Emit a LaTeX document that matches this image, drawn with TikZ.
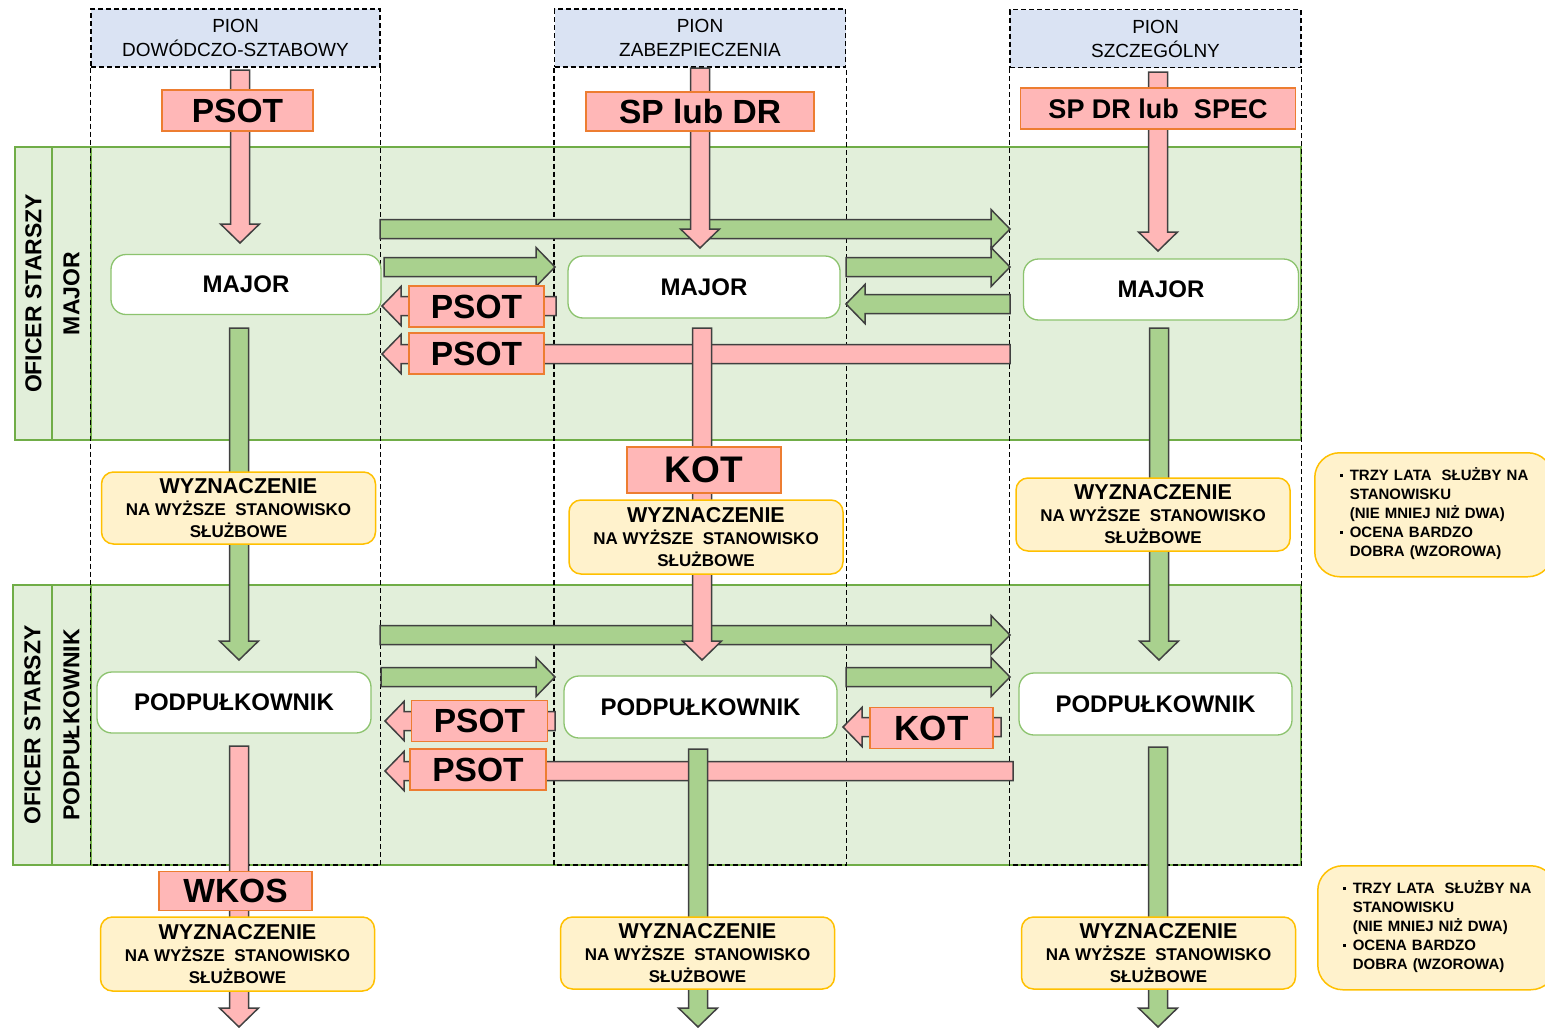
\documentclass[tikz,border=0pt]{standalone}
\usepackage{fontspec}
\setmainfont{Liberation Sans}
\usetikzlibrary{calc}
\definecolor{bandfill}{RGB}{226,239,218}
\definecolor{bandline}{RGB}{112,173,71}
\definecolor{headfill}{RGB}{218,227,243}
\definecolor{pinkfill}{RGB}{255,183,183}
\definecolor{tagline}{RGB}{237,125,49}
\definecolor{greenfill}{RGB}{169,209,142}
\definecolor{arrowline}{RGB}{64,64,64}
\definecolor{notefill}{RGB}{255,242,204}
\definecolor{noteline}{RGB}{255,192,0}
\definecolor{boxline}{RGB}{140,195,110}
\tikzset{every picture/.style={line width=1pt},
  band/.style={draw=bandline, fill=bandfill, line width=1.2pt},
  bandlab/.style={draw=bandline, fill=bandfill, line width=1.2pt, rotate=90, inner sep=0pt,
    font=\bfseries\fontsize{23}{26}\selectfont},
  pionhead/.style={draw, dash pattern=on 5pt off 3pt, line width=1.3pt, fill=headfill,
    minimum height=58, inner sep=0pt, align=center, font=\fontsize{19}{24}\selectfont},
  coldash/.style={draw, dash pattern=on 5pt off 3pt, line width=1.3pt},
  greenarrow/.style={fill=greenfill, draw=arrowline, line width=1.5pt},
  pinkarrow/.style={fill=pinkfill, draw=arrowline, line width=1.5pt},
  tag/.style={draw=tagline, fill=pinkfill, line width=1.5pt, inner sep=0pt,
    font=\bfseries\fontsize{33.5}{36}\selectfont},
  rank/.style={draw=boxline, fill=white, line width=1.3pt, rounded corners=15pt, inner sep=0pt,
    font=\bfseries\fontsize{24}{26}\selectfont},
  promo/.style={draw=noteline, fill=notefill, line width=1.5pt, rounded corners=12pt, inner sep=0pt,
    minimum width=274, align=center, font=\bfseries\fontsize{17}{22}\selectfont},
  cond/.style={draw=noteline, fill=notefill, line width=1.5pt, rounded corners=25pt,
    anchor=north west, minimum height=124, inner xsep=25pt, inner ysep=0pt, text width=188pt,
    align=left, font=\bfseries\fontsize{15}{19}\selectfont}
}
% thick outlined arrow from #2 to #3
\newcommand{\blockarrow}[3]{%
  \filldraw[#1] ($(#2)!9.5pt!90:(#3)$) -- ($(#3)!19pt!(#2)!9.5pt!90:(#3)$)
    -- ($(#3)!19pt!(#2)!19.5pt!90:(#3)$) -- (#3)
    -- ($(#3)!19pt!(#2)!19.5pt!-90:(#3)$) -- ($(#3)!19pt!(#2)!9.5pt!-90:(#3)$)
    -- ($(#2)!9.5pt!-90:(#3)$) -- cycle;}
\newcommand{\wyzn}{{\fontsize{21.5}{22}\selectfont WYZNACZENIE}\\NA WYŻSZE\ \ STANOWISKO\\SŁUŻBOWE}
\newcommand{\warunki}{%
  \begin{tabular}{@{}l@{\hspace{7pt}}l@{}}
  \rule[4pt]{3pt}{3pt} & TRZY LATA\ \ SŁUŻBY NA\\
   & STANOWISKU\\
   & (NIE MNIEJ NIŻ DWA)\\
  \rule[4pt]{3pt}{3pt} & OCENA BARDZO\\
   & DOBRA (WZOROWA)
  \end{tabular}}

\begin{document}
\begin{tikzpicture}[x=1pt,y=1pt,yscale=-1,xscale=1]
\useasboundingbox (0,0) rectangle (1545,1028);

% bands
\draw[band] (15,147) rectangle (1301,440);
\node[bandlab, minimum width=293, minimum height=37] (os1) at (33.5,293.5) {OFICER STARSZY};
\node[bandlab, minimum width=293, minimum height=39] (mjlab) at (71.5,293.5) {MAJOR};
\draw[band] (13,585) rectangle (1301,865);
\node[bandlab, minimum width=280, minimum height=39] (os2) at (32.5,725) {OFICER STARSZY};
\node[bandlab, minimum width=280, minimum height=39] (pplab) at (71.5,725) {PODPUŁKOWNIK};

% columns
\node[pionhead, minimum width=289] (hd1) at (235.5,38) {PION\\DOWÓDCZO-SZTABOWY};
\node[pionhead, minimum width=291] (hd2) at (700,38) {PION\\ZABEZPIECZENIA};
\node[pionhead, minimum width=291] (hd3) at (1155.5,38.5) {PION\\SZCZEGÓLNY};
\coordinate (bottom) at (0,865);
\foreach \c in {hd1,hd2,hd3}
  \draw[coldash] (\c.south west) -- (\c.south west |- bottom) -- (\c.south east |- bottom) -- (\c.south east);

% arrow ends
\coordinate (ua0) at (380,229);  \coordinate (ua1) at (1010,229);
\coordinate (ub0) at (384,267);  \coordinate (ub1) at (555,267);
\coordinate (ub2) at (846,267);  \coordinate (ub3) at (1010,267);
\coordinate (uc0) at (556,306);  \coordinate (uc1) at (382,306);
\coordinate (uc2) at (1010,304); \coordinate (uc3) at (846,304);
\coordinate (ud0) at (1010,354); \coordinate (ud1) at (382,354);
\coordinate (la0) at (380,635);  \coordinate (la1) at (1010,635);
\coordinate (lb0) at (381,677);  \coordinate (lb1) at (555,677);
\coordinate (lb2) at (846,677);  \coordinate (lb3) at (1010,677);
\coordinate (lc0) at (555,721);  \coordinate (lc1) at (385,721);
\coordinate (lc2) at (1001,727); \coordinate (lc3) at (843,727);
\coordinate (ld0) at (1013,771); \coordinate (ld1) at (385,771);

% horizontal arrows
\blockarrow{greenarrow}{ua0}{ua1}
\blockarrow{greenarrow}{ub0}{ub1}
\blockarrow{greenarrow}{ub2}{ub3}
\blockarrow{pinkarrow}{uc0}{uc1}
\blockarrow{greenarrow}{uc2}{uc3}
\blockarrow{pinkarrow}{ud0}{ud1}
\blockarrow{greenarrow}{la0}{la1}
\blockarrow{greenarrow}{lb0}{lb1}
\blockarrow{greenarrow}{lb2}{lb3}
\blockarrow{pinkarrow}{lc0}{lc1}
\blockarrow{pinkarrow}{lc2}{lc3}
\blockarrow{pinkarrow}{ld0}{ld1}

% vertical arrows
\coordinate (v1a) at (240,70);   \coordinate (v1b) at (240,243);
\coordinate (v2a) at (700,68);   \coordinate (v2b) at (700,248);
\coordinate (v3a) at (1158,72);  \coordinate (v3b) at (1158,251);
\coordinate (v4a) at (239,328);  \coordinate (v4b) at (239,660);
\coordinate (v5a) at (702,328);  \coordinate (v5b) at (702,660);
\coordinate (v6a) at (1159,328); \coordinate (v6b) at (1159,660);
\coordinate (v7a) at (239,746);  \coordinate (v7b) at (239,1027);
\coordinate (v8a) at (698,749);  \coordinate (v8b) at (698,1027);
\coordinate (v9a) at (1158,747); \coordinate (v9b) at (1158,1027);
\blockarrow{pinkarrow}{v1a}{v1b}
\blockarrow{pinkarrow}{v2a}{v2b}
\blockarrow{pinkarrow}{v3a}{v3b}
\blockarrow{greenarrow}{v4a}{v4b}
\blockarrow{pinkarrow}{v5a}{v5b}
\blockarrow{greenarrow}{v6a}{v6b}
\blockarrow{pinkarrow}{v7a}{v7b}
\blockarrow{greenarrow}{v8a}{v8b}
\blockarrow{greenarrow}{v9a}{v9b}

% ranks
\node[rank, minimum width=270, minimum height=60] (mj1) at (246,284.5) {MAJOR};
\node[rank, minimum width=272, minimum height=62] (mj2) at (704,287) {MAJOR};
\node[rank, minimum width=275, minimum height=61] (mj3) at (1161,289.5) {MAJOR};
\node[rank, minimum width=274, minimum height=61] (pp1) at (234,702.5) {PODPUŁKOWNIK};
\node[rank, minimum width=273, minimum height=62] (pp2) at (700.5,707) {PODPUŁKOWNIK};
\node[rank, minimum width=273, minimum height=62] (pp3) at (1155.5,704) {PODPUŁKOWNIK};

% tags
\node[tag, minimum width=151, minimum height=41] (t1) at (237.5,110.5) {PSOT};
\node[tag, minimum width=228, minimum height=39] (t2) at (700,111.5) {SP lub DR};
\node[tag, minimum width=275, minimum height=41, font=\bfseries\fontsize{27}{30}\selectfont] (t3) at (1158,108.5) {SP DR lub\ \ SPEC};
\node[tag, minimum width=135, minimum height=41] (t4) at (476.5,306.5) {PSOT};
\node[tag, minimum width=135, minimum height=41] (t5) at (476.5,353.5) {PSOT};
\node[tag, minimum width=154, minimum height=46, font=\bfseries\fontsize{37}{40}\selectfont] (t6) at (704,470) {KOT};
\node[tag, minimum width=136, minimum height=41] (t7) at (479.5,721) {PSOT};
\node[tag, minimum width=136, minimum height=41] (t8) at (478,769.5) {PSOT};
\node[tag, minimum width=123, minimum height=41, font=\bfseries\fontsize{35}{38}\selectfont] (t9) at (931.5,728) {KOT};
\node[tag, minimum width=153, minimum height=39] (t10) at (235.5,891) {WKOS};

% promotions
\node[promo, minimum height=72] (w1) at (238.5,508) {\wyzn};
\node[promo, minimum height=74] (w2) at (706,537) {\wyzn};
\node[promo, minimum height=73] (w3) at (1153,514.5) {\wyzn};
\node[promo, minimum height=74] (w4) at (237.5,954) {\wyzn};
\node[promo, minimum height=72] (w5) at (697.5,953) {\wyzn};
\node[promo, minimum height=72] (w6) at (1158.5,953) {\wyzn};

% conditions
\node[cond] (n1) at (1314,452) {\warunki};
\node[cond] (n2) at (1317,865) {\warunki};

\end{tikzpicture}
\end{document}
